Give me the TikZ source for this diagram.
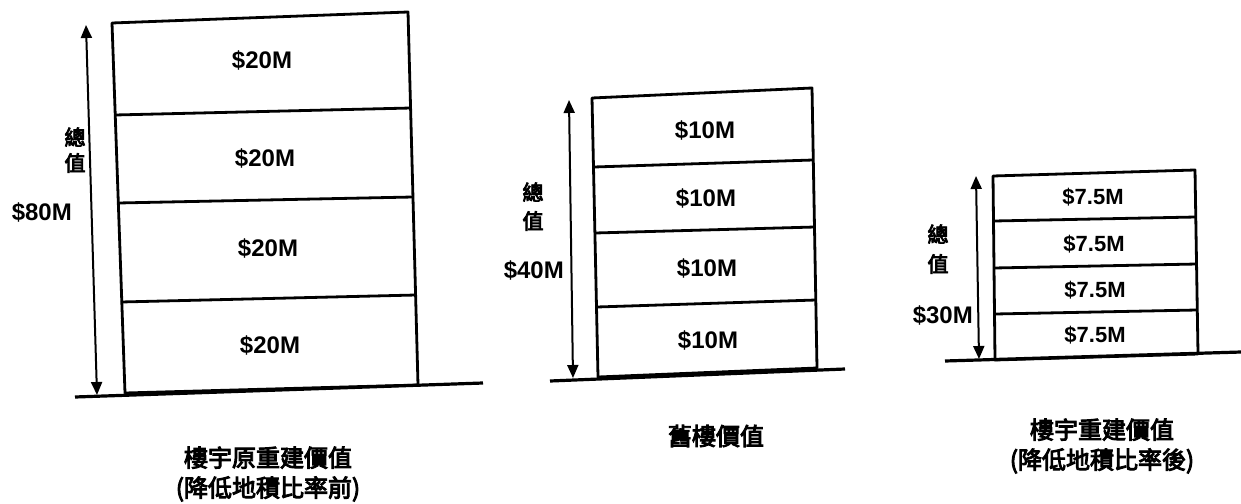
\documentclass[tikz,border=0pt]{standalone}
\usepackage{fontspec}
\setmainfont{Liberation Sans}
\newfontfamily\cjk[FakeBold=4]{Noto Sans CJK TC}
\usetikzlibrary{arrows.meta}
\tikzset{
  wall/.style={line width=2.8pt, line join=round},
  floorline/.style={line width=2.8pt},
  ground/.style={line width=3.2pt},
  total/.style={line width=2pt, {Triangle[width=11pt,length=13pt]}-{Triangle[width=11pt,length=13pt]}},
  money/.style={font=\fontsize{24}{26}\selectfont\bfseries, inner sep=0pt},
  side/.style={font=\cjk\fontsize{21}{23}\selectfont, inner sep=0pt, align=center},
  caption/.style={font=\cjk\fontsize{24}{30}\selectfont, inner sep=0pt, align=center}
}
\begin{document}
\begin{tikzpicture}[x=1pt,y=-1pt]
\useasboundingbox (0,0) rectangle (1241,503);
% ---------- building 1 ----------
\draw[wall] (112,23) -- (408,12) -- (418,385) -- (125,393) -- cycle;
\draw[floorline] (115,115) -- (411,108);
\draw[floorline] (118,203) -- (413,197);
\draw[floorline] (121,302) -- (416,295);
\draw[ground] (75,397) -- (483,383);
\coordinate (a1b) at (97,395);
\coordinate (a1t) at (86,25);
\draw[total] (a1b) -- (a1t);
\node[money] (b1f4) at (262,60) {\$20M};
\node[money] (b1f3) at (265,158) {\$20M};
\node[money] (b1f2) at (268,248) {\$20M};
\node[money] (b1f1) at (270,345) {\$20M};
\node[side] (b1z) at (75,137) {總};
\node[side] (b1v) at (75,163) {值};
\node[money,anchor=east] (b1t) at (72,212) {\$80M};
\node[caption] (cap1) at (268,474) {樓宇原重建價值\\(降低地積比率前)};
% ---------- building 2 ----------
\draw[wall] (592,98) -- (812,88) -- (817,368) -- (598,377) -- cycle;
\draw[floorline] (594,167) -- (813,160);
\draw[floorline] (595,233) -- (815,227);
\draw[floorline] (597,307) -- (816,300);
\draw[ground] (550,381) -- (845,369);
\coordinate (a2b) at (573,378);
\coordinate (a2t) at (569,100);
\draw[total] (a2b) -- (a2t);
\node[money] (b2f4) at (705,130) {\$10M};
\node[money] (b2f3) at (706,198) {\$10M};
\node[money] (b2f2) at (707,268) {\$10M};
\node[money] (b2f1) at (708,340) {\$10M};
\node[side] (b2z) at (533,192) {總};
\node[side] (b2v) at (533,221) {值};
\node[money,anchor=east] (b2t) at (564,270) {\$40M};
\node[caption] (cap2) at (716,436) {舊樓價值};
% ---------- building 3 ----------
\draw[wall] (993,176) -- (1195,170) -- (1198,354) -- (995,360) -- cycle;
\draw[floorline] (994,221) -- (1196,217);
\draw[floorline] (994,268) -- (1197,264);
\draw[floorline] (995,314) -- (1197,310);
\draw[ground] (945,361) -- (1241,352);
\coordinate (a3b) at (979,359);
\coordinate (a3t) at (976,176);
\draw[total] (a3b) -- (a3t);
\node[money,font=\fontsize{22}{24}\selectfont\bfseries] (b3f4) at (1093,197) {\$7.5M};
\node[money,font=\fontsize{22}{24}\selectfont\bfseries] (b3f3) at (1094,244) {\$7.5M};
\node[money,font=\fontsize{22}{24}\selectfont\bfseries] (b3f2) at (1095,290) {\$7.5M};
\node[money,font=\fontsize{22}{24}\selectfont\bfseries] (b3f1) at (1095,335) {\$7.5M};
\node[side] (b3z) at (938,234) {總};
\node[side] (b3v) at (938,264) {值};
\node[money,anchor=east] (b3t) at (973,315) {\$30M};
\node[caption] (cap3) at (1102,446) {樓宇重建價值\\(降低地積比率後)};
\end{tikzpicture}
\end{document}
